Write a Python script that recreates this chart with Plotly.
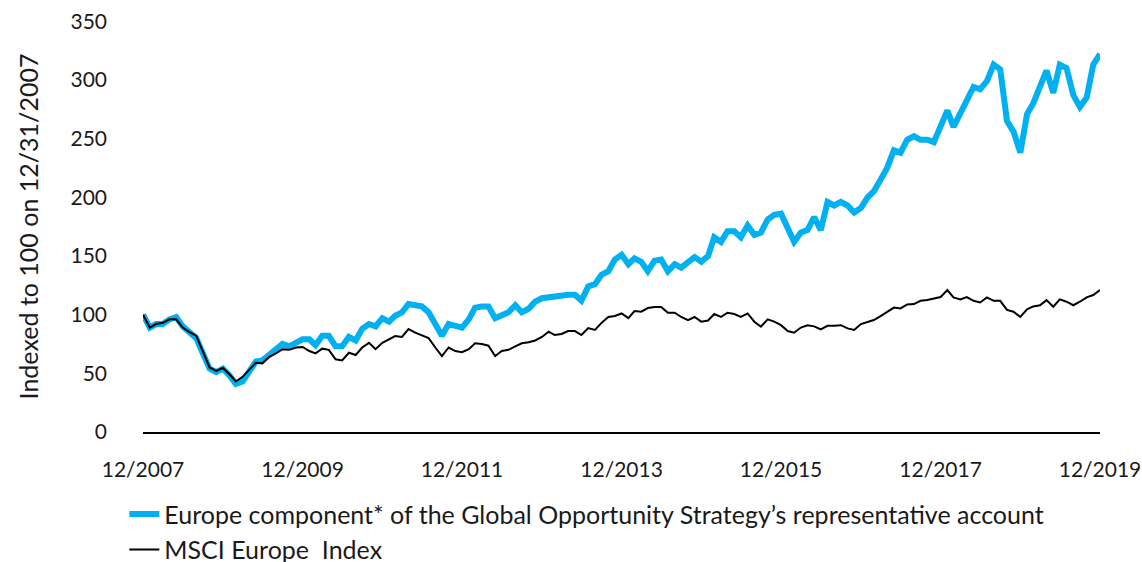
import pandas as pd
import plotly.graph_objects as go

# Monthly index values, 12/2007 .. 12/2019 (145 months)
months = pd.date_range("2007-12-31", periods=145, freq="ME")

europe_component = [
    100, 89, 92, 92, 96, 98, 90, 85, 80, 67,
    54, 51, 54, 48, 41, 43, 52, 60, 61, 66,
    71, 75, 73, 76, 79, 79, 74, 82, 82, 73,
    73, 81, 78, 88, 92, 90, 97, 94, 99, 102,
    109, 108, 107, 102, 93, 82, 92, 91, 89, 96,
    106, 107, 107, 97, 100, 102, 108, 102, 105, 111,
    114, 115, 116, 117, 117, 117, 112, 124, 126, 134,
    137, 147, 151, 143, 148, 145, 137, 146, 147, 137,
    143, 140, 145, 149, 145, 150, 166, 162, 171, 171,
    166, 176, 168, 170, 181, 185, 186, 174, 162, 170,
    172, 183, 172, 196, 193, 196, 193, 187, 191, 200,
    205, 215, 225, 240, 238, 249, 252, 249, 249, 247,
    262, 274, 260, 272, 283, 294, 292, 299, 313, 309,
    265, 256, 238, 271, 280, 293, 308, 289, 313, 310,
    287, 277, 285, 313, 322,
]

msci_europe = [
    100, 89, 92, 93, 96, 96, 89, 85, 82, 68,
    55, 52, 54.5, 49, 43, 47, 53, 59, 58.5, 64,
    67, 70.5, 70, 72, 72.5, 69, 67, 71, 70, 62,
    61, 67.5, 65.6, 72, 76, 70.6, 76, 79, 81.7, 81,
    87.7, 84.6, 82.6, 80, 72, 64.7, 72, 69, 68, 70.6,
    75.6, 75, 73.5, 64.7, 69, 70, 73, 75.6, 76.5, 78,
    81, 85.4, 82.6, 83.5, 86, 86, 82.6, 88.6, 87, 93,
    98, 98.8, 101, 97, 103, 102.5, 105.6, 106.5, 106.5, 101.6,
    101.6, 98, 95.4, 98, 94, 95, 100.5, 98, 101.6, 100.5,
    98, 101, 94, 89.7, 96, 94, 91, 86, 84.6, 89,
    91, 90, 87.4, 90.5, 90.5, 91, 88.3, 86.9, 92, 94,
    95.4, 98.8, 102.5, 106, 105.3, 108.7, 109, 111.8, 112.4, 113.8,
    115, 121, 114.7, 113, 115, 111.8, 110.4, 114.7, 111.8, 111.8,
    104, 102.5, 98, 104.5, 107, 108, 112.4, 106.7, 113, 111,
    108, 111, 114.7, 116.7, 121,
]

tick_dates = ["2007-12-31", "2009-12-31", "2011-12-31", "2013-12-31",
              "2015-12-31", "2017-12-31", "2019-12-31"]
tick_labels = ["12/2007", "12/2009", "12/2011", "12/2013",
               "12/2015", "12/2017", "12/2019"]
y_ticks = [0, 50, 100, 150, 200, 250, 300, 350]

FONT = "Lato"
TXT = "#1a1a1a"

fig = go.Figure()
fig.add_trace(go.Scatter(
    x=months, y=europe_component, mode="lines",
    name="Europe component* of the Global Opportunity Strategy\u2019s representative account",
    line=dict(color="#00B0F0", width=6),
))
fig.add_trace(go.Scatter(
    x=months, y=msci_europe, mode="lines",
    name="MSCI Europe  Index",
    line=dict(color="#000000", width=2),
))

fig.update_layout(
    width=1142, height=562,
    margin=dict(l=143, r=42, t=21, b=130, autoexpand=False),
    paper_bgcolor="white", plot_bgcolor="white",
    font=dict(family=FONT, size=21, color=TXT),
    showlegend=True,
    legend=dict(
        orientation="v", x=-0.0195, xanchor="left", y=-0.144, yanchor="top",
        font=dict(family=FONT, size=25, color=TXT),
        bgcolor="rgba(0,0,0,0)", tracegroupgap=0,
    ),
    xaxis=dict(
        range=[months[0], months[-1]], automargin=False,
        tickvals=pd.to_datetime(tick_dates), ticktext=tick_labels,
        showgrid=False, zeroline=False,
        showline=True, linecolor="#000000", linewidth=1.5,
        ticks="", ticklabelstandoff=18, ticklabeloverflow="allow",
        tickfont=dict(family=FONT, size=21, color=TXT),
    ),
    yaxis=dict(
        range=[0, 350.2], tickvals=y_ticks, automargin=False,
        showgrid=False, zeroline=False, showline=False,
        ticks="", ticklabelstandoff=35, ticklabeloverflow="allow",
        tickfont=dict(family=FONT, size=21, color=TXT),
        title=dict(text="Indexed to 100 on 12/31/2007",
                   font=dict(family=FONT, size=25, color=TXT), standoff=24),
    ),
)

fig.write_html(
    "out.html",
    config={"displayModeBar": False},
    post_script="document.body.style.margin='0';document.body.style.overflow='hidden';",
)
